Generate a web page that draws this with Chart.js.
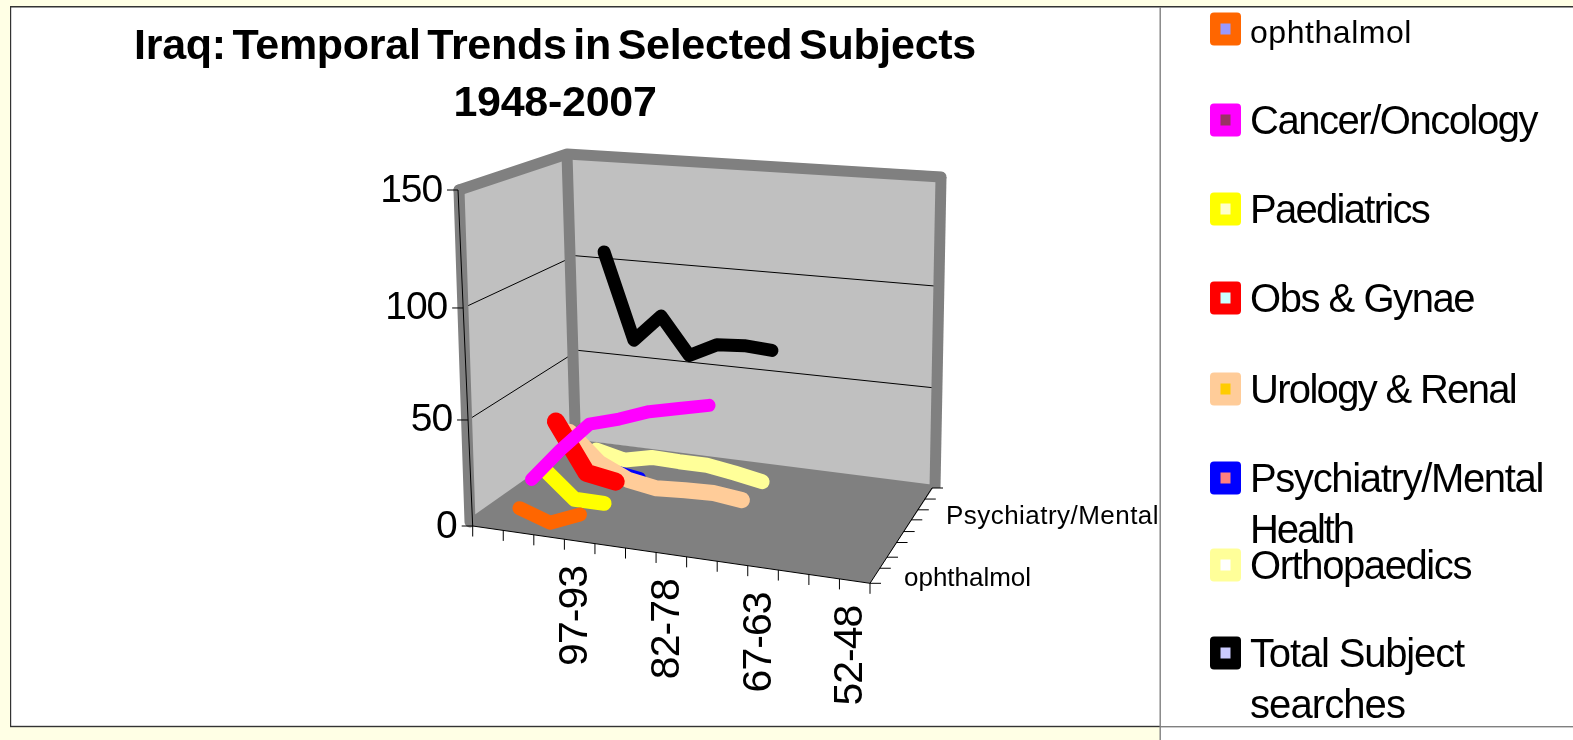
<!DOCTYPE html>
<html><head><meta charset="utf-8">
<style>html,body{margin:0;padding:0;background:#FFFFE5;overflow:hidden}canvas{display:block}</style>
<script src="https://cdn.jsdelivr.net/npm/chart.js@4"></script>
</head><body><canvas id="c" width="1573" height="740"></canvas>
<script>
const titleLines = ["Iraq: Temporal Trends in Selected Subjects", "1948-2007"];
const categories = ["", "07-03", "02-98", "97-93", "92-88", "87-83", "82-78", "77-73", "72-68", "67-63", "62-58", "57-53", "52-48"];
const shownCategories = ["97-93", "82-78", "67-63", "52-48"];
const valueTicks = [0, 50, 100, 150];
const seriesNames = ["ophthalmol", "Cancer/Oncology", "Paediatrics", "Obs & Gynae", "Urology & Renal", "Psychiatry/Mental Health", "Orthopaedics", "Total Subject searches"];
const ophthalmol = [null, 8, 3, 9];
const cancer = [null, 17, 33, 47, 51, 56, 59, 62];
const paediatrics = [null, 17, 4, 4];
const obsGynae = [null, 36, 12, 9.5];
const urology = [null, 26, 12, 5, 2.5, 3.5, 4, 2.3];
const psychiatry = [null, 10, 2.5, 0.2];
const orthopaedics = [null, 5.6, 2, 5.4, 5, 5, 2.7, 0];
const totalSearches = [null, 105, 61, 75, 56, 63, 64, 63];
const lineColors = ["#FF6600", "#FF00FF", "#FFFF00", "#FF0000", "#FFCC99", "#0000FF", "#FFFF99", "#000000"];
const innerColors = ["#9999FF", "#993366", "#FFFFCC", "#CCFFFF", "#FFCC00", "#FF8080", "#FFFFFF", "#CCCCFF"];
const allSeries = [ophthalmol, cancer, paediatrics, obsGynae, urology, psychiatry, orthopaedics, totalSearches];
const widths = [14, 13, 15, 18, 16, 12, 15, 13];

const F00=[472.7,526],F10=[870,583.3],F01=[581,440],F11=[931,484];
const T00=[458,190],T10=[866,221],T01=[572,156],T11=[938,179];
const lerp=(a,b,t)=>a+(b-a)*t;
const bi=(a,b,c,d,u,w,k)=>lerp(lerp(a[k],b[k],u),lerp(c[k],d[k],u),w);
function P(u,w,v){
  const t=v/150, tp=t-0.08*t*(1-t);
  return {x:lerp(bi(F00,F10,F01,F11,u,w,0),bi(T00,T10,T01,T11,u,w,0),tp),
          y:lerp(bi(F00,F10,F01,F11,u,w,1),bi(T00,T10,T01,T11,u,w,1),tp)};
}
const depth=s=>0.08+0.123*s;
const catU=i=>(i+0.28)/13;

const datasets=allSeries.map((vals,s)=>({
  label:seriesNames[s],
  data:vals.map((v,i)=>v===null?null:P(catU(i),depth(s),v)).filter(Boolean),
  showLine:true,borderColor:lineColors[s],backgroundColor:lineColors[s],borderWidth:widths[s],
  borderCapStyle:'round',borderJoinStyle:'round',pointRadius:0,tension:0,fill:false
}));

function fitted(ctx,text,x,y,font,target,align,wordGap){
  ctx.font=font;ctx.letterSpacing='0px';ctx.wordSpacing=(wordGap||0)+'px';
  const m=ctx.measureText(text).width;
  const ls=(target-m)/text.length;
  ctx.letterSpacing=ls.toFixed(3)+'px';
  ctx.textAlign=align||'left';ctx.textBaseline='alphabetic';ctx.fillStyle='#000';
  ctx.fillText(text,x,y);ctx.letterSpacing='0px';ctx.wordSpacing='0px';
}
const scene={id:'scene',
  beforeDatasetsDraw(chart){
    const c=chart.ctx,X=chart.scales.x,Y=chart.scales.y;
    const px=p=>[X.getPixelForValue(p.x!==undefined?p.x:p[0]),Y.getPixelForValue(p.y!==undefined?p.y:p[1])];
    const path=(pts)=>{c.beginPath();pts.forEach((p,i)=>{const q=px(p);i?c.lineTo(q[0],q[1]):c.moveTo(q[0],q[1]);});};
    const poly=(pts,col)=>{path(pts);c.closePath();c.fillStyle=col;c.fill();};
    const line=(pts,col,w,cap)=>{path(pts);c.strokeStyle=col;c.lineWidth=w;c.lineCap=cap||'butt';c.lineJoin='round';c.stroke();};
    c.save();
    // page panels
    c.fillStyle='#FFFFE5';c.fillRect(0,0,1573,740);
    c.fillStyle='#FFFFFF';c.fillRect(10,7,1563,720);c.fillRect(1160,727,413,13);
    c.fillStyle='#333333';c.fillRect(10,6,1563,1.5);c.fillRect(10,6,1.2,721);c.fillRect(10,725.8,1150,1.4);
    c.fillStyle='#808080';c.fillRect(1160,726,413,1.4);c.fillRect(1159.5,7,1.4,733);
    // walls and floor
    poly([[458,190],[568,150],[581,440],[472.7,526]],'#C0C0C0');
    poly([[568,150],[944,172],[935,488],[581,440]],'#C0C0C0');
    poly([[470,518],[581,440],[935,485],[870,583.3],[472.7,526]],'#808080');
    // gridlines
    [50,100].forEach(v=>{
      line([P(0,0,v),P(0,1,v)],'#000',1);
      line([P(0,1,v),P(1,1,v)],'#000',1);
    });
    // wall frame
    line([[459,190],[470,522]],'#808080',11,'round');
    line([[567,154],[575.5,440]],'#808080',11);
    line([[941,177],[935,488]],'#808080',11);
    line([[459,190],[567,154],[941,177]],'#808080',11,'round');
    // axes
    line([[458,190],[472.7,526]],'#000',1);
    line([F00,F10],'#000',1);
    line([F10,[932,488]],'#000',1);
    valueTicks.forEach(v=>{const p=P(0,0,v);line([[p.x,p.y],[p.x-11,p.y]],'#000',1);
      const s=String(v);
      fitted(c,s,p.x-16,p.y+11.5,'39px "Liberation Sans"',s.length*20.6,'right');});
    for(let i=0;i<=13;i++){const a=lerp(F00[0],F10[0],i/13),b=lerp(F00[1],F10[1],i/13);line([[a,b],[a,b+10.5]],'#000',1);}
    for(let s=0;s<=8;s++){const f=[0,.158,.274,.428,.543,.666,.771,.884,1][s],a=lerp(870,932,f),b=lerp(583.3,488,f);line([[a,b],[a+11,b]],'#000',1);}
    c.restore();
  },
  afterDatasetsDraw(chart){
    const c=chart.ctx;c.save();
    fitted(c,titleLines[0],555,59,'bold 43px "Liberation Sans"',842,'center',-5);
    fitted(c,titleLines[1],555,116,'bold 43px "Liberation Sans"',203,'center');
    // category labels
    shownCategories.forEach(lbl=>{const i=categories.indexOf(lbl);const u=(i+0.5)/13;
      const x=lerp(F00[0],F10[0],u),y=lerp(F00[1],F10[1],u);
      c.save();c.translate(x+7.5,y+24.5);c.rotate(-Math.PI/2);
      fitted(c,lbl,0,0,'41px "Liberation Sans"',100,'right');c.restore();});
    // depth labels
    fitted(c,"ophthalmol",904,586,'26px "Liberation Sans"',127,'left');
    fitted(c,"Psychiatry/Mental",946,524,'26px "Liberation Sans"',213,'left');
    // legend
    const ys=[29,120,209,298,389,478,565,653];
    const sizes=[[162,32],[287,40],[179,40],[224,40],[266,40],[293,40],[221,40],[214,40]];
    const lines=[["ophthalmol"],["Cancer/Oncology"],["Paediatrics"],["Obs & Gynae"],["Urology & Renal"],["Psychiatry/Mental","Health"],["Orthopaedics"],["Total Subject","searches"]];
    const w2=[0,0,0,0,0,103,0,155];
    ys.forEach((y,s)=>{
      c.fillStyle=lineColors[s];c.beginPath();c.roundRect(1210,y-16.5,31,33,4);c.fill();
      c.fillStyle=innerColors[s];c.fillRect(1220.5,y-5.5,10,11);
      const baseline=y+14;
      fitted(c,lines[s][0],1250,baseline,sizes[s][1]+'px "Liberation Sans"',sizes[s][0],'left');
      if(lines[s][1]) fitted(c,lines[s][1],1250,baseline+51,'40px "Liberation Sans"',w2[s],'left');
    });
    c.restore();
  }
};
new Chart(document.getElementById('c'),{type:'scatter',data:{datasets},plugins:[scene],options:{
  responsive:false,animation:false,
  layout:{padding:0},
  plugins:{legend:{display:false},title:{display:false},tooltip:{enabled:false}},
  scales:{x:{type:'linear',min:0,max:1573,display:false},y:{type:'linear',min:0,max:740,reverse:true,display:false}}
}});
</script></body></html>
